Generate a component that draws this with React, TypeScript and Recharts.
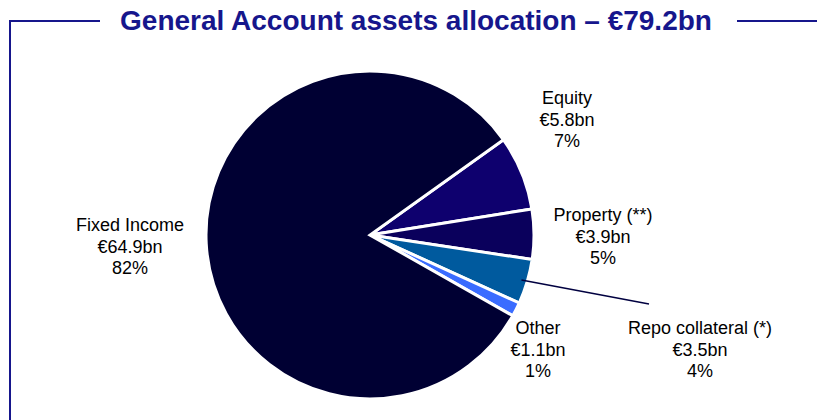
import React from "react";
import { PieChart, Pie, Cell } from "recharts";

const categories = ["Equity", "Property (**)", "Repo collateral (*)", "Other", "Fixed Income"];
const valuesBn = [5.8, 3.9, 3.5, 1.1, 64.9];
const pctLabels = ["7%", "5%", "4%", "1%", "82%"];
const colors = ["#0e006e", "#0a005c", "#005a9e", "#3a6cff", "#000033"];
const TITLE = "General Account assets allocation \u2013 \u20ac79.2bn";

// label anchor layout (centre x, first-line baseline y)
const labelLayout = [
  { x: 567, y: 104 },
  { x: 603, y: 221 },
  { x: 700, y: 334 },
  { x: 538, y: 334 },
  { x: 130, y: 231 },
];
const leaderEnd = { x: 649, y: 304 };

const data = categories.map((name, i) => ({ name, value: valuesBn[i], pct: pctLabels[i] }));

const FONT = "Arial, 'Liberation Sans', sans-serif";
const NAVY = "#16168c";

const renderLabel = (props: any) => {
  const { cx, cy, midAngle, outerRadius, index } = props;
  const pos = labelLayout[index];
  const d = data[index];
  const RAD = Math.PI / 180;
  const lines = [d.name, "\u20ac" + d.value.toFixed(1) + "bn", d.pct];
  let leader = null;
  if (index === 2) {
    const sx = cx + (outerRadius - 6) * Math.cos(-midAngle * RAD);
    const sy = cy + (outerRadius - 6) * Math.sin(-midAngle * RAD);
    leader = <line x1={sx} y1={sy} x2={leaderEnd.x} y2={leaderEnd.y} stroke="#000040" strokeWidth={1.5} />;
  }
  return (
    <g key={"lbl" + index}>
      {leader}
      {lines.map((t, j) => (
        <text key={j} x={pos.x} y={pos.y + j * 21.5} textAnchor="middle" fontFamily={FONT} fontSize={18} fill="#000">
          {t}
        </text>
      ))}
    </g>
  );
};

export default function App() {
  return (
    <div style={{ position: "absolute", left: 0, top: 0, width: 817, height: 420, background: "#fff" }}>
      <svg width={817} height={420} style={{ position: "absolute", left: 0, top: 0 }}>
        <line x1={10} y1={21} x2={100} y2={21} stroke={NAVY} strokeWidth={2} />
        <line x1={737} y1={21} x2={817} y2={21} stroke={NAVY} strokeWidth={2} />
        <line x1={10} y1={20} x2={10} y2={420} stroke={NAVY} strokeWidth={2} />
        <text x={416} y={30} textAnchor="middle" fontFamily={FONT} fontWeight="bold" fontSize={28} fill={NAVY}>
          {TITLE}
        </text>
      </svg>
      <div style={{ position: "absolute", left: 0, top: 0 }}>
        <PieChart width={817} height={420} margin={{ top: 0, right: 0, bottom: 0, left: 0 }}>
          <Pie
            data={data}
            dataKey="value"
            nameKey="name"
            cx={370}
            cy={235}
            outerRadius={164}
            startAngle={35.5}
            endAngle={-324.5}
            stroke="#ffffff"
            strokeWidth={3}
            label={renderLabel}
            labelLine={false}
            isAnimationActive={false}
          >
            {data.map((d, i) => (
              <Cell key={d.name} fill={colors[i]} />
            ))}
          </Pie>
        </PieChart>
      </div>
    </div>
  );
}
